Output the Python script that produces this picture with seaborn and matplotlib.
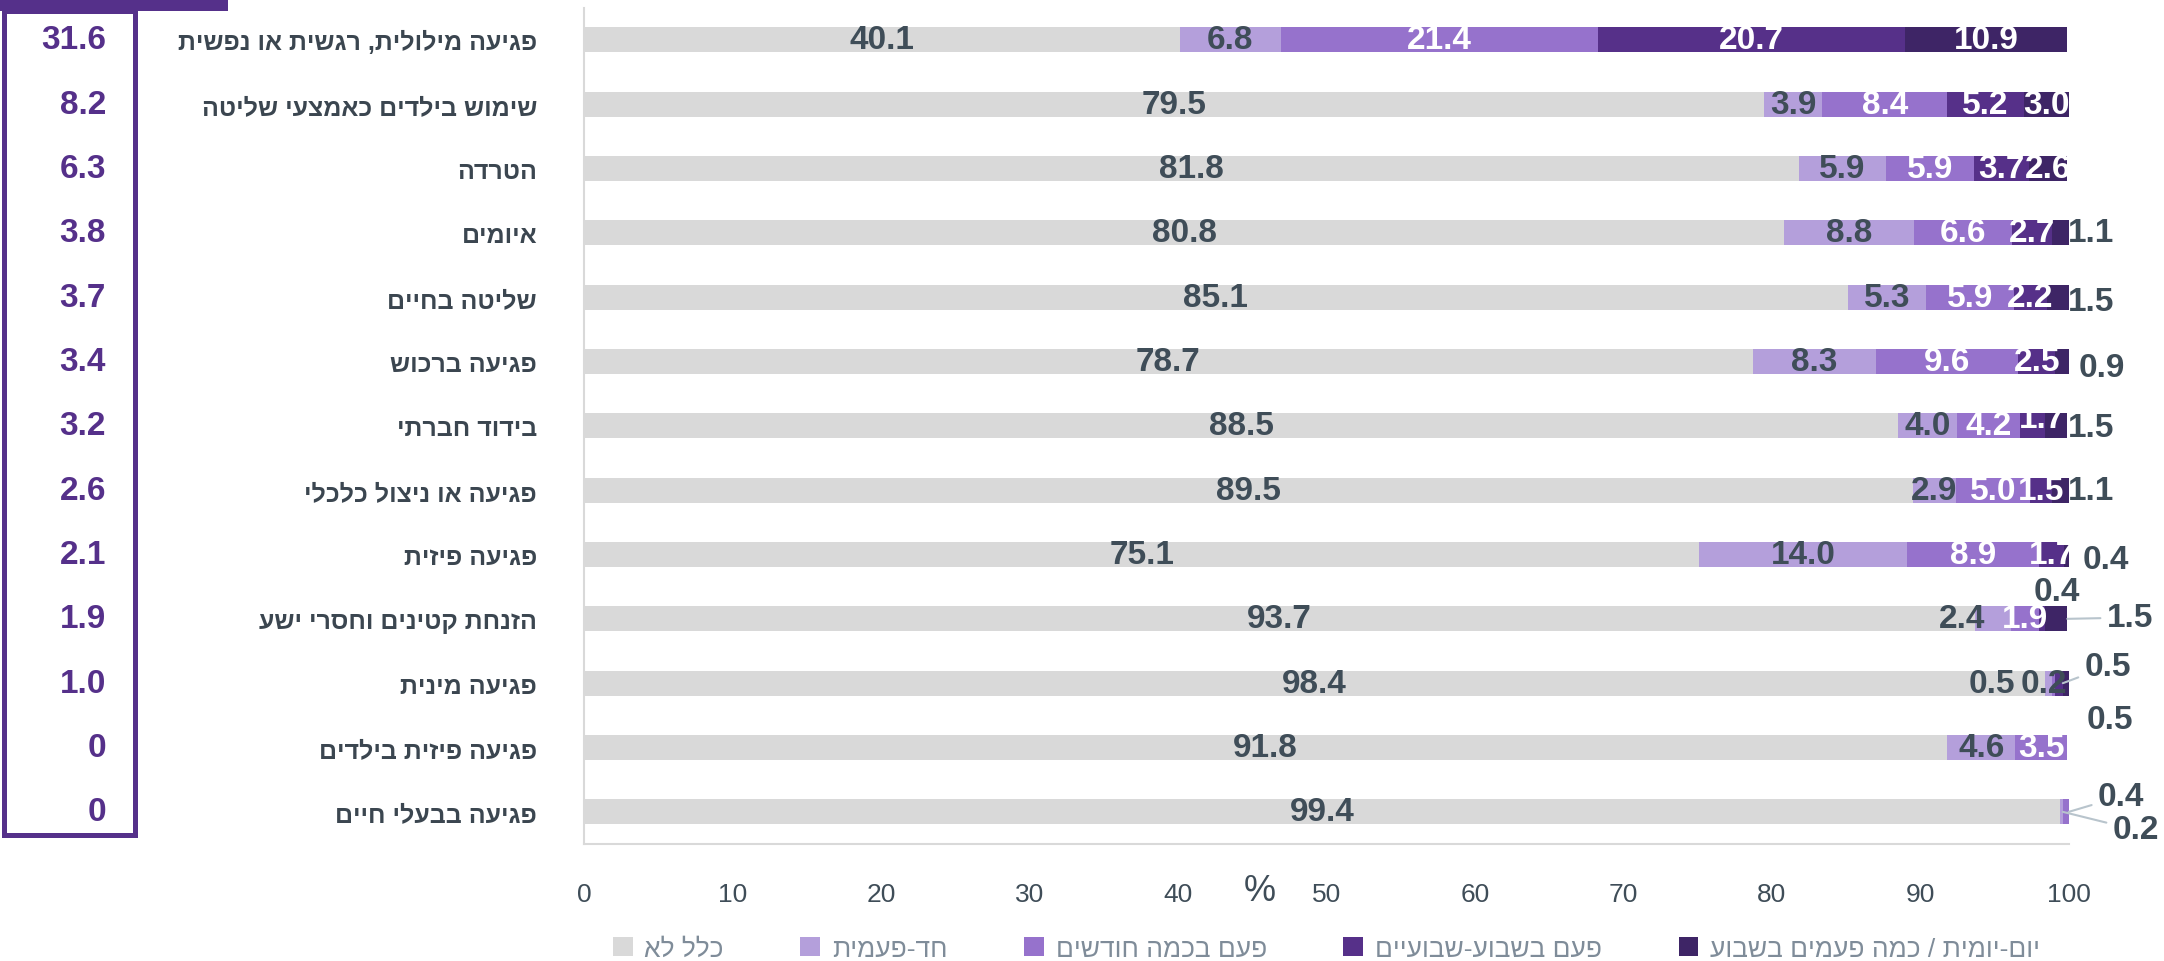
import numpy as np
import pandas as pd
import matplotlib.pyplot as plt
import matplotlib.transforms as mtransforms
from matplotlib.patches import Rectangle, Patch
import seaborn as sns

# DATI
categorie = ["פגיעה מילולית, רגשית או נפשית", "שימוש בילדים כאמצעי שליטה", "הטרדה", "איומים",
             "שליטה בחיים", "פגיעה ברכוש", "בידוד חברתי", "פגיעה או ניצול כלכלי", "פגיעה פיזית",
             "הזנחת קטינים וחסרי ישע", "פגיעה מינית", "פגיעה פיזית בילדים", "פגיעה בבעלי חיים"]
serie = ["כלל לא", "חד-פעמית", "פעם בכמה חודשים", "פעם בשבוע-שבועיים", "יום-יומית / כמה פעמים בשבוע"]
mai = [40.1, 79.5, 81.8, 80.8, 85.1, 78.7, 88.5, 89.5, 75.1, 93.7, 98.4, 91.8, 99.4]
una_volta = [6.8, 3.9, 5.9, 8.8, 5.3, 8.3, 4.0, 2.9, 14.0, 2.4, 0.5, 4.6, 0.2]
mesi = [21.4, 8.4, 5.9, 6.6, 5.9, 9.6, 4.2, 5.0, 8.9, 1.9, 0.2, 3.5, 0.4]
settimane = [20.7, 5.2, 3.7, 2.7, 2.2, 2.5, 1.7, 1.5, 1.7, 0.4, 0.5, 0.0, 0.0]
giornaliera = [10.9, 3.0, 2.6, 1.1, 1.5, 0.9, 1.5, 1.1, 0.4, 1.5, 0.5, 0.0, 0.0]
tick_x = [0, 10, 20, 30, 40, 50, 60, 70, 80, 90, 100]

# STILE
colori = ["#d9d9d9", "#b49fdb", "#9672cc", "#563089", "#3e2566"]
viola = "#55308a"
scuro = "#3f4d58"
grigio_asse = "#d9d9d9"

sns.set_style("white")
plt.rcParams['font.family'] = ['Liberation Sans', 'DejaVu Sans']


def rtl(s):
    # matplotlib non gestisce il bidi: inverto il testo ebraico
    return s[::-1]


# etichette spostate come nell'originale: (x, dy, linea di collegamento, colore)
etichette_speciali = {
    (3, 4): (101.5, 0.0, False, scuro),
    (4, 4): (101.5, 0.07, False, scuro),
    (5, 4): (102.2, 0.09, False, scuro),
    (6, 3): (98.2, -0.12, False, "white"),
    (6, 4): (101.5, 0.02, False, scuro),
    (7, 4): (101.5, 0.0, False, scuro),
    (8, 4): (102.5, 0.07, False, scuro),
    (9, 1): (92.8, 0.0, False, scuro),
    (9, 3): (99.2, -0.42, False, scuro),
    (9, 4): (104.1, -0.02, True, scuro),
    (10, 1): (94.8, 0.0, False, scuro),
    (10, 2): (98.3, 0.0, False, scuro),
    (10, 3): (102.6, -0.26, True, scuro),
    (10, 4): (102.8, 0.56, False, scuro),
    (12, 1): (104.5, 0.28, True, scuro),
    (12, 2): (103.5, -0.24, True, scuro),
}

valori = np.array([mai, una_volta, mesi, settimane, giornaliera])
cumulati = np.cumsum(valori, axis=0)
cat_rtl = [rtl(c) for c in categorie]

# FIGURA
fig = plt.figure(figsize=(21.64, 9.62), dpi=100)
ax = fig.add_axes([0.27, 0.1216, 0.686, 0.8694])

# BARRE IMPILATE: disegno i cumulati dal piu lungo al piu corto
for i in range(len(serie) - 1, -1, -1):
    sns.barplot(x=cumulati[i], y=cat_rtl, orient="h", color=colori[i], saturation=1,
                width=0.39, linewidth=0, ax=ax)

ax.set_xlim(0, 100)
ax.set_ylim(len(categorie) - 0.5, -0.5)
ax.set_xlabel("")
ax.set_ylabel("")

# ASSI
for lato in ["top", "right"]:
    ax.spines[lato].set_visible(False)
for lato in ["left", "bottom"]:
    ax.spines[lato].set_color(grigio_asse)
    ax.spines[lato].set_linewidth(1.5)

ax.set_xticks(tick_x)
ax.set_xticklabels([str(t) for t in tick_x])
ax.tick_params(axis="x", length=7, width=1.5, color=grigio_asse, pad=20,
               labelsize=19, labelcolor=scuro)
ax.tick_params(axis="y", which="major", length=0, pad=34, labelsize=18, labelcolor="#3b4650")
for t in ax.get_yticklabels():
    t.set_fontweight("bold")
ax.set_yticks(np.arange(-0.5, len(categorie), 1), minor=True)
ax.tick_params(axis="y", which="minor", length=6, width=1.5, color=grigio_asse)

ax.text(45.5, -0.055, "%", transform=mtransforms.blended_transform_factory(ax.transData, ax.transAxes),
        ha="center", va="center", fontsize=26, color=scuro)

# ETICHETTE DEI SEGMENTI
for r in range(len(categorie)):
    for i in range(len(serie)):
        v = valori[i, r]
        if v == 0:
            continue
        inizio = cumulati[i, r] - v
        colore = scuro if i < 2 else "white"
        x, y = inizio + v / 2, r
        linea = False
        if (r, i) in etichette_speciali:
            x, dy, linea, colore = etichette_speciali[(r, i)]
            y = r + dy
        testo = f"{v:.1f}"
        if linea:
            ax.annotate(testo, xy=(cumulati[i, r], r), xytext=(x, y), ha="center", va="center",
                        fontsize=24, fontweight="bold", color=colore, annotation_clip=False,
                        arrowprops=dict(arrowstyle="-", color="#b8c4cc", lw=1.5,
                                        shrinkA=2, shrinkB=0))
        else:
            ax.text(x, y, testo, ha="center", va="center", fontsize=24, fontweight="bold",
                    color=colore, clip_on=False)

# BOX A SINISTRA CON LA SOMMA SETTIMANALE + GIORNALIERA
fig.patches.append(Rectangle((0, 1 - 12 / 962), 228 / 2164, 12 / 962, transform=fig.transFigure,
                             facecolor=viola, edgecolor="none"))
fig.patches.append(Rectangle((4 / 2164, 1 - 836 / 962), 131 / 2164, 824 / 962,
                             transform=fig.transFigure, fill=False, edgecolor=viola, lw=3.6))
trans_box = mtransforms.blended_transform_factory(fig.transFigure, ax.transData)
somma = np.array(settimane) + np.array(giornaliera)
for r, s in enumerate(somma):
    lab = f"{s:.1f}" if s > 0 else "0"
    ax.text(106 / 2164, r, lab, transform=trans_box, ha="right", va="center",
            fontsize=24, fontweight="bold", color=viola, clip_on=False)

# LEGENDA
maniglie = [Patch(facecolor=colori[i], edgecolor="none", label=rtl(serie[i])) for i in range(len(serie))]
leg = ax.legend(handles=maniglie, loc="center", bbox_to_anchor=(0.5, -0.125), ncol=5, frameon=False,
                fontsize=19, handlelength=0.75, handleheight=0.75, handletextpad=0.45, columnspacing=2.9)
for t in leg.get_texts():
    t.set_color("#7f8c99")

plt.savefig("out.png", dpi=100)
